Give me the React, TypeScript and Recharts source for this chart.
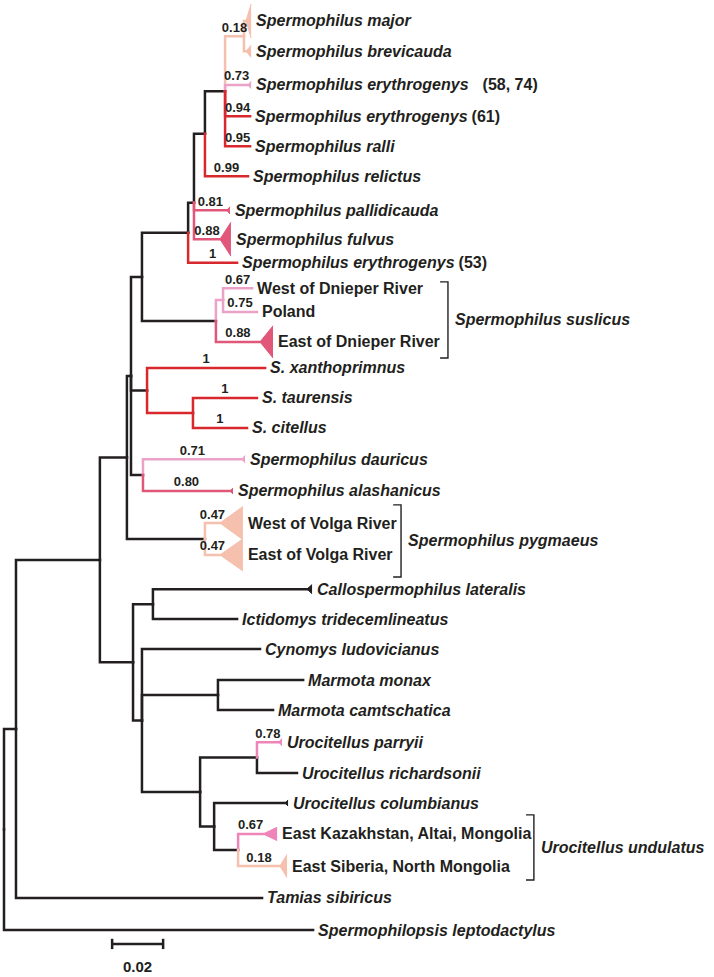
import React from "react";
import { ComposedChart, XAxis, YAxis, Line, Area, Scatter } from "recharts";

const FONT = "'Liberation Sans', Arial, Helvetica, sans-serif";
const INK = "#231f20";

// colour of each branch group
const groupColors: Record<string, string> = {
  k: INK,
  r: "#d8272d",
  p: "#f5c1ae",
  l: "#eca2c8",
  m: "#e0577a",
  h: "#ee84b7",
};

// internal nodes: id, parent, depth (subst./site), branch group, posterior
const innerNodes: [string, string, number, string, string][] = [
  ["A", "root", 0.0047, "k", ""],
  ["B", "A", 0.0376, "k", ""],
  ["C", "B", 0.0482, "k", ""],
  ["L", "C", 0.0498, "k", ""],
  ["M", "L", 0.0541, "k", ""],
  ["F", "M", 0.0722, "k", ""],
  ["G", "F", 0.0745, "k", ""],
  ["H", "G", 0.0788, "k", ""],
  ["I", "H", 0.0867, "k", ""],
  ["J", "I", 0.0941, "p", "0.18"],
  ["S", "M", 0.0831, "k", ""],
  ["T", "S", 0.0859, "l", ""],
  ["N", "L", 0.0561, "k", ""],
  ["O", "N", 0.0741, "r", ""],
  ["DA", "L", 0.0545, "k", ""],
  ["V", "C", 0.0788, "k", ""],
  ["D", "B", 0.0506, "k", ""],
  ["CI", "D", 0.0584, "k", ""],
  ["E", "D", 0.0541, "k", ""],
  ["MA", "E", 0.0839, "k", ""],
  ["U", "E", 0.0769, "k", ""],
  ["PR", "U", 0.0992, "k", ""],
  ["CU", "U", 0.0824, "k", ""],
  ["UN", "CU", 0.0918, "k", ""],
];

// rows that are not the midpoint of the children
const rowOverrides: Record<string, number> = { G: 6.0 };

// terminal taxa: name, parent, depth, row, branch group, posterior
const taxa: [string, string, number, number, string, string][] = [
  ["Spermophilus major", "J", 0.0969, 0, "p", ""],
  ["Spermophilus brevicauda", "J", 0.0969, 1.0, "p", ""],
  ["Spermophilus erythrogenys", "I", 0.0969, 2.11, "l", "0.73"],
  ["Spermophilus erythrogenys", "I", 0.0965, 3.14, "r", "0.94"],
  ["Spermophilus ralli", "I", 0.0965, 4.13, "r", "0.95"],
  ["Spermophilus relictus", "H", 0.0957, 5.12, "r", "0.99"],
  ["Spermophilus pallidicauda", "G", 0.0886, 6.25, "m", "0.81"],
  ["Spermophilus fulvus", "G", 0.089, 7.2, "m", "0.88"],
  ["Spermophilus erythrogenys", "F", 0.0914, 7.98, "r", "1"],
  ["West of Dnieper River", "T", 0.0973, 8.82, "l", "0.67"],
  ["Poland", "T", 0.0992, 9.6, "l", "0.75"],
  ["East of Dnieper River", "S", 0.1055, 10.59, "m", "0.88"],
  ["S. xanthoprimnus", "N", 0.1024, 11.45, "r", "1"],
  ["S. taurensis", "O", 0.0992, 12.44, "r", "1"],
  ["S. citellus", "O", 0.0953, 13.43, "r", "1"],
  ["Spermophilus dauricus", "DA", 0.0945, 14.46, "l", "0.71"],
  ["Spermophilus alashanicus", "DA", 0.0898, 15.51, "m", "0.80"],
  ["West of Volga River", "V", 0.0937, 16.57, "p", "0.47"],
  ["East of Volga River", "V", 0.0937, 17.62, "p", "0.47"],
  ["Callospermophilus lateralis", "CI", 0.1208, 18.75, "k", ""],
  ["Ictidomys tridecemlineatus", "CI", 0.0914, 19.74, "k", ""],
  ["Cynomys ludovicianus", "E", 0.1004, 20.73, "k", ""],
  ["Marmota monax", "MA", 0.1173, 21.75, "k", ""],
  ["Marmota camtschatica", "MA", 0.1055, 22.74, "k", ""],
  ["Urocitellus parryii", "PR", 0.109, 23.8, "h", "0.78"],
  ["Urocitellus richardsonii", "PR", 0.1149, 24.82, "k", ""],
  ["Urocitellus columbianus", "CU", 0.1114, 25.81, "k", ""],
  ["East Kazakhstan, Altai, Mongolia", "UN", 0.1071, 26.83, "h", "0.67"],
  ["East Siberia, North Mongolia", "UN", 0.111, 27.89, "p", "0.18"],
  ["Tamias sibiricus", "A", 0.1012, 28.94, "k", ""],
  ["Spermophilopsis leptodactylus", "root", 0.1212, 30.0, "k", ""],
];

const taxonSuffix: Record<number, string> = { 2: "(58, 74)", 3: "(61)", 8: "(53)" };
const wideSuffix = "(58, 74)";
const plainTaxa = new Set([
  "West of Dnieper River",
  "Poland",
  "East of Dnieper River",
  "West of Volga River",
  "East of Volga River",
  "East Kazakhstan, Altai, Mongolia",
  "East Siberia, North Mongolia",
]);

// collapsed clades: taxon index -> [clade node depth, half height in rows]
const collapsed: Record<number, [number, number]> = {
  0: [0.0949, 0.56],
  1: [0.0949, 0.2],
  2: [0.0957, 0.12],
  6: [0.0874, 0.12],
  7: [0.0847, 0.56],
  11: [0.1004, 0.53],
  15: [0.0933, 0.12],
  16: [0.0886, 0.1],
  17: [0.0847, 0.55],
  18: [0.0847, 0.53],
  19: [0.1188, 0.15],
  24: [0.1078, 0.12],
  26: [0.1102, 0.1],
  27: [0.1016, 0.22],
  28: [0.1082, 0.38],
};

const bracketNames = ["Spermophilus suslicus", "Spermophilus pygmaeus", "Urocitellus undulatus"];
const bracketDepths = [0.1741, 0.1557, 0.2078];
const bracketRows: [number, number][] = [
  [8.61, 11.12],
  [15.97, 18.35],
  [26.2, 28.35],
];

const scaleStart = 0.0424;
const scaleLength = 0.02;
const scaleRow = 30.46;
const scaleLabel = "0.02";

const X_DOMAIN: [number, number] = [-0.00157, 0.27843];
const Y_DOMAIN: [number, number] = [-0.693, 31.551];

type TreeNode = {
  id: string;
  parent: string;
  depth: number;
  row: number;
  group: string;
  support: string;
  taxon: number;
};

const nodes: Record<string, TreeNode> = {
  root: { id: "root", parent: "", depth: 0, row: NaN, group: "k", support: "", taxon: -1 },
};
innerNodes.forEach(([id, parent, depth, group, support]) => {
  nodes[id] = { id, parent, depth, row: NaN, group, support, taxon: -1 };
});
taxa.forEach(([, parent, depth, row, group, support], i) => {
  nodes["t" + i] = { id: "t" + i, parent, depth, row, group, support, taxon: i };
});

const children: Record<string, string[]> = {};
Object.values(nodes).forEach((n) => {
  if (n.parent) (children[n.parent] ||= []).push(n.id);
});

const rowOf = (id: string): number => {
  const n = nodes[id];
  if (!Number.isNaN(n.row)) return n.row;
  const rows = children[id].map(rowOf);
  n.row = rowOverrides[id] ?? (Math.min(...rows) + Math.max(...rows)) / 2;
  return n.row;
};
rowOf("root");

const branches = Object.values(nodes)
  .filter((n) => n.parent)
  .map((n) => {
    const p = nodes[n.parent];
    const end = n.taxon >= 0 && collapsed[n.taxon] ? collapsed[n.taxon][0] : n.depth;
    return {
      id: n.id,
      group: n.group,
      points: [
        { x: p.depth, y: p.row },
        { x: p.depth, y: n.row },
        { x: end, y: n.row },
      ],
      mid: (p.depth + end) / 2,
      row: n.row,
      support: n.support,
    };
  })
  .sort((a, b) => (a.group === "k" ? 0 : 1) - (b.group === "k" ? 0 : 1));

const triangles = Object.entries(collapsed).map(([k, [apex, half]]) => {
  const n = nodes["t" + k];
  return {
    id: "tri" + k,
    group: n.group,
    data: [
      { x: apex, y: [n.row, n.row] },
      { x: n.depth, y: [n.row - half, n.row + half] },
    ],
  };
});

const taxonPoints = taxa.map(([name], i) => ({
  x: nodes["t" + i].depth,
  y: nodes["t" + i].row,
  name,
  suffix: taxonSuffix[i] || "",
  italic: !plainTaxa.has(name),
}));

const supportPoints = branches
  .filter((b) => b.support)
  .map((b) => ({ x: b.mid, y: b.row, label: b.support }));

const bracketLabelPoints = bracketNames.map((name, i) => ({
  x: bracketDepths[i],
  y: (bracketRows[i][0] + bracketRows[i][1]) / 2,
  name,
}));

const scaleLabelPoints = [{ x: scaleStart + scaleLength / 2, y: scaleRow, label: scaleLabel }];

const TaxonLabel = (props: any) => {
  const { cx, cy, payload } = props;
  return (
    <text
      x={cx + 5}
      y={cy}
      dy={5.5}
      fontFamily={FONT}
      fontSize={16}
      fontWeight="bold"
      fontStyle={payload.italic ? "italic" : "normal"}
      fill={INK}
    >
      {payload.name}
      {payload.suffix ? (
        <tspan fontStyle="normal" dx={payload.suffix === wideSuffix ? 14 : 4}>
          {payload.suffix}
        </tspan>
      ) : null}
    </text>
  );
};

const SupportLabel = (props: any) => {
  const { cx, cy, payload } = props;
  return (
    <text
      x={cx}
      y={cy}
      dy={-4.5}
      textAnchor="middle"
      fontFamily={FONT}
      fontSize={13}
      fontWeight="bold"
      fill={INK}
    >
      {payload.label}
    </text>
  );
};

const BracketLabel = (props: any) => {
  const { cx, cy, payload } = props;
  return (
    <text
      x={cx + 7}
      y={cy}
      dy={5.5}
      fontFamily={FONT}
      fontSize={16}
      fontWeight="bold"
      fontStyle="italic"
      fill={INK}
    >
      {payload.name}
    </text>
  );
};

const ScaleLabel = (props: any) => {
  const { cx, cy, payload } = props;
  return (
    <text
      x={cx}
      y={cy}
      dy={28}
      textAnchor="middle"
      fontFamily={FONT}
      fontSize={15}
      fontWeight="bold"
      fill={INK}
    >
      {payload.label}
    </text>
  );
};

const tick = 0.0031;
const scaleTick = 0.17;

export default function App() {
  return (
    <div style={{ position: "absolute", left: 0, top: 0, background: "#fff" }}>
      <ComposedChart width={714} height={977} margin={{ top: 0, right: 0, bottom: 0, left: 0 }}>
        <XAxis type="number" dataKey="x" domain={X_DOMAIN} allowDataOverflow hide />
        <YAxis type="number" dataKey="y" domain={Y_DOMAIN} allowDataOverflow reversed hide />

        {branches.map((b) => (
          <Line
            key={b.id}
            data={b.points}
            dataKey="y"
            type="linear"
            stroke={groupColors[b.group]}
            strokeWidth={2.5}
            strokeLinecap="square"
            dot={false}
            activeDot={false}
            isAnimationActive={false}
          />
        ))}

        {triangles.map((t) => (
          <Area
            key={t.id}
            data={t.data}
            dataKey="y"
            type="linear"
            stroke={groupColors[t.group]}
            strokeWidth={1}
            fill={groupColors[t.group]}
            fillOpacity={1}
            dot={false}
            activeDot={false}
            isAnimationActive={false}
          />
        ))}

        {bracketNames.map((name, i) => (
          <Line
            key={name}
            data={[
              { x: bracketDepths[i] - tick, y: bracketRows[i][0] },
              { x: bracketDepths[i], y: bracketRows[i][0] },
              { x: bracketDepths[i], y: bracketRows[i][1] },
              { x: bracketDepths[i] - tick, y: bracketRows[i][1] },
            ]}
            dataKey="y"
            type="linear"
            stroke={INK}
            strokeWidth={1.4}
            dot={false}
            activeDot={false}
            isAnimationActive={false}
          />
        ))}

        <Line
          data={[
            { x: scaleStart, y: scaleRow },
            { x: scaleStart + scaleLength, y: scaleRow },
          ]}
          dataKey="y"
          type="linear"
          stroke={INK}
          strokeWidth={2.5}
          dot={false}
          activeDot={false}
          isAnimationActive={false}
        />
        {[scaleStart, scaleStart + scaleLength].map((x) => (
          <Line
            key={"st" + x}
            data={[
              { x, y: scaleRow - scaleTick },
              { x, y: scaleRow + scaleTick },
            ]}
            dataKey="y"
            type="linear"
            stroke={INK}
            strokeWidth={2.5}
            dot={false}
            activeDot={false}
            isAnimationActive={false}
          />
        ))}

        <Scatter data={taxonPoints} shape={TaxonLabel} isAnimationActive={false} />
        <Scatter data={supportPoints} shape={SupportLabel} isAnimationActive={false} />
        <Scatter data={bracketLabelPoints} shape={BracketLabel} isAnimationActive={false} />
        <Scatter data={scaleLabelPoints} shape={ScaleLabel} isAnimationActive={false} />
      </ComposedChart>
    </div>
  );
}
